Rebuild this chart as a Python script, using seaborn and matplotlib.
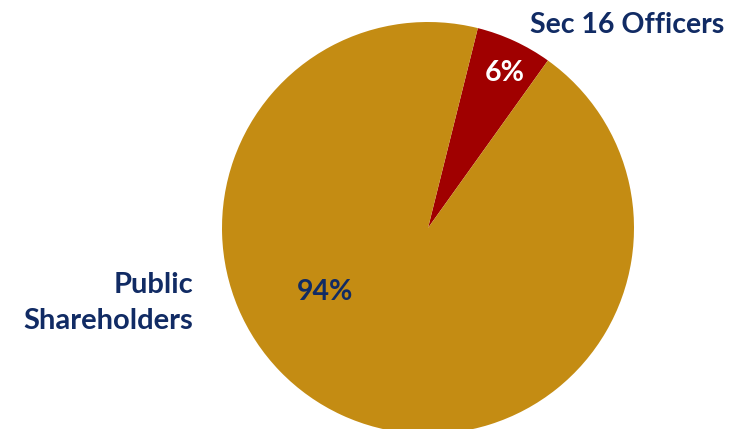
import matplotlib
matplotlib.use("Agg")
import matplotlib.pyplot as plt
import seaborn as sns

categories = ["Sec 16 Officers", "Public\nShareholders"]
values = [6, 94]
pct_labels = ["6%", "94%"]

sns.set_theme(style="white")
plt.rcParams['font.family'] = ['Lato', 'DejaVu Sans']

colors = ["#A00000", "#C48C13"]
navy = "#112B64"

fig = plt.figure(figsize=(7.30, 4.29), dpi=100)
ax = fig.add_axes([0, 0, 1, 1])

ax.pie(values, colors=colors, startangle=76, counterclock=False,
       center=(428, 201), radius=206, frame=True,
       wedgeprops=dict(linewidth=0))
ax.set_xlim(0, 730)
ax.set_ylim(0, 429)
ax.set_aspect("equal")
ax.axis("off")

fs = 20.5
ax.text(627, 404, categories[0], ha="center", va="center", fontsize=fs,
        fontweight="bold", color=navy)
ax.text(193, 126, categories[1], ha="right", va="center", fontsize=fs + 0.5,
        fontweight="bold", color=navy, linespacing=1.45)
ax.text(505, 356, pct_labels[0], ha="center", va="center", fontsize=fs,
        fontweight="bold", color="white")
ax.text(325, 137, pct_labels[1], ha="center", va="center", fontsize=fs,
        fontweight="bold", color=navy)

fig.savefig("out.png", dpi=100)
